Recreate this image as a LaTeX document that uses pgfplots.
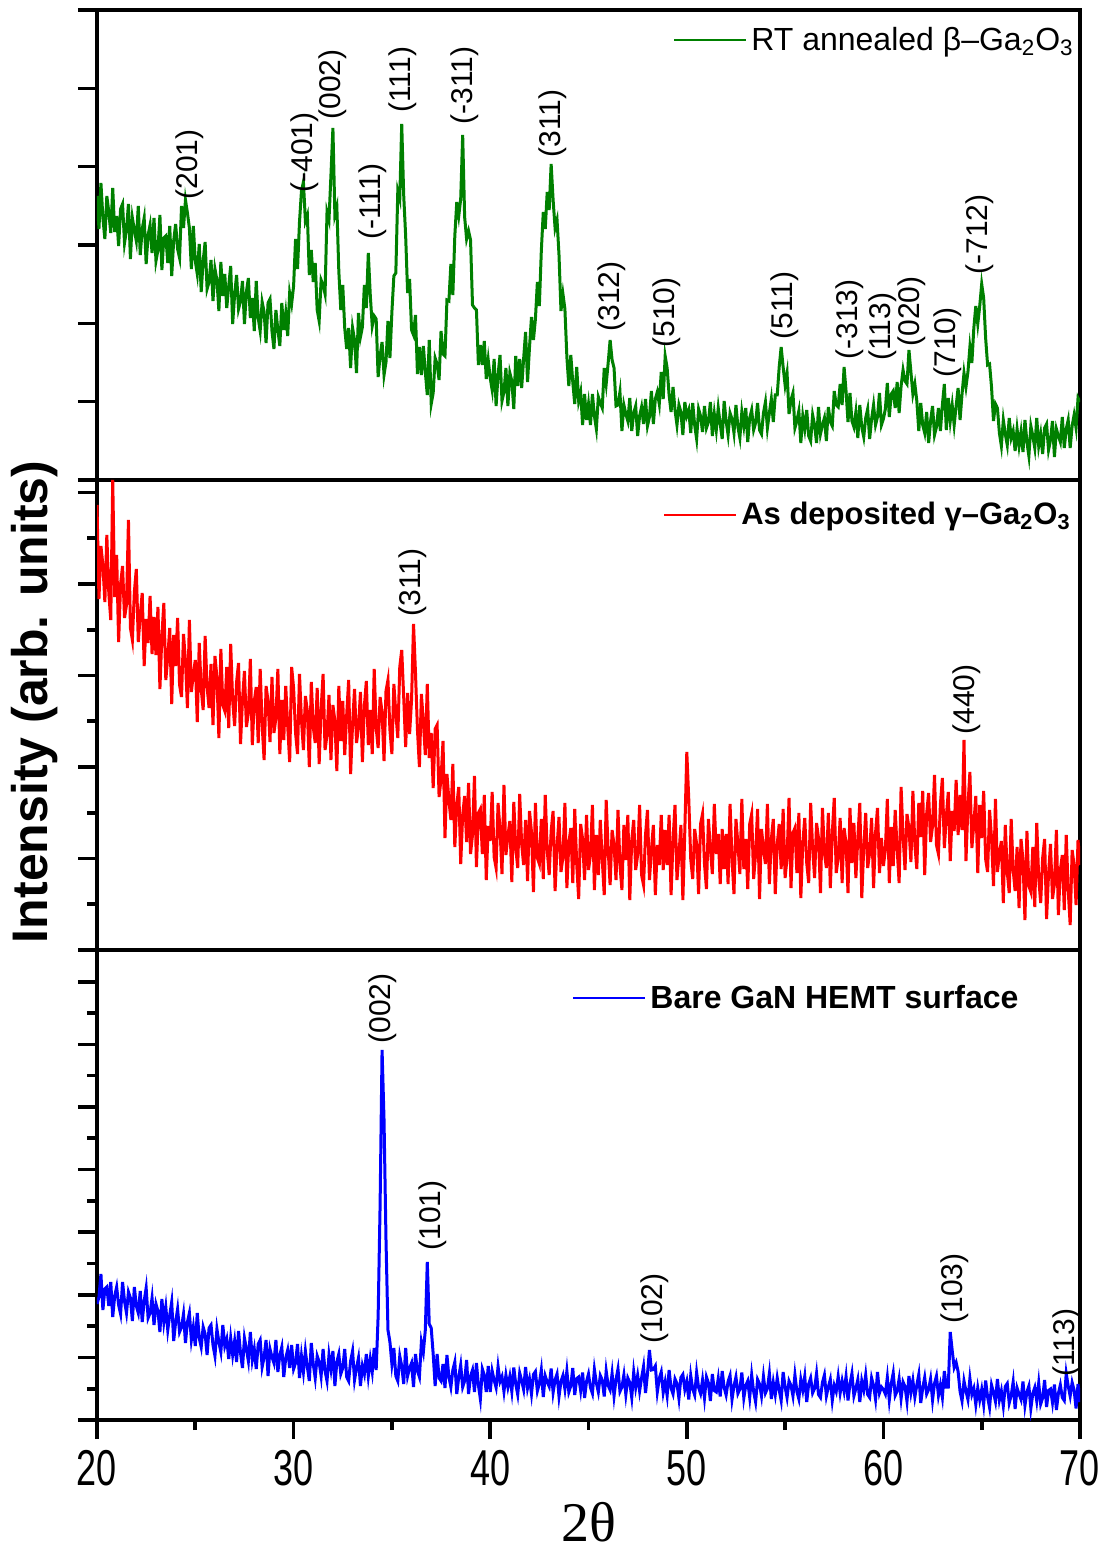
\documentclass[border=0pt]{standalone}
\usepackage{fontspec}
\setmainfont{Liberation Sans}
\newfontfamily\serifx{Liberation Serif}
\usepackage{graphicx}
\usepackage{pgfplots}
\pgfplotsset{compat=1.18}
\definecolor{ogreen}{RGB}{0,128,0}
\tikzset{annot/.style={rotate=90, anchor=west, inner sep=0pt, font=\fontsize{15}{15}\selectfont}}
\pgfplotsset{
  panel/.style={
    scale only axis, width=491.5pt, height=235pt,
    xmin=20, xmax=70, ymin=0, ymax=470,
    axis line style={line width=1.8pt},
    tick align=outside, ytick pos=left,
    yticklabels={}, minor y tick num=1,
    major tick length=9.5pt, minor tick length=5pt,
    tick style={black, line width=1.8pt},
    legend style={draw=none, fill=none, inner sep=0pt, font=\fontsize{16}{16}\selectfont, nodes={inner sep=2pt}},
    legend image code/.code={\draw[##1, line width=1pt] (0pt,0pt) -- (36pt,0pt);},
  },
}
\begin{document}
\begin{tikzpicture}
\path[use as bounding box] (-48.5pt,-65.5pt) rectangle (507pt,710pt);
% ---------------- top panel ----------------
\begin{axis}[panel, at={(0pt,470pt)}, anchor=south west, xtick=\empty,
  ytick={0,78.33,156.67,235,313.33,391.67,470},
  legend style={at={(rel axis cs:0.998,0.936)}, anchor=east}]
\addplot[ogreen, line width=1.5pt] table[header=false, x expr=20+0.1*\coordindex, y index=0] {
284
251
297
262
241
284
268
247
292
248
264
234
271
276
237
250
276
221
262
250
239
274
225
251
262
216
245
255
227
262
219
230
265
210
242
244
217
254
204
239
256
231
222
274
252
280
267
252
211
254
219
206
236
188
219
238
191
198
220
179
211
200
169
218
184
206
172
194
214
156
185
205
171
179
199
156
188
202
162
182
149
199
162
149
178
168
137
177
181
149
131
170
150
134
177
150
167
144
187
176
194
241
211
258
289
298
259
265
205
230
198
217
170
159
200
195
186
268
260
305
352
265
273
209
170
195
152
131
152
112
152
140
107
167
143
153
195
172
227
185
154
164
161
103
124
138
105
118
159
122
168
204
207
289
281
356
285
244
187
201
150
145
165
106
133
105
134
108
85
140
76
87
122
116
100
149
126
124
180
179
216
185
244
278
264
281
345
263
241
249
240
175
172
170
115
135
115
139
101
120
102
90
121
74
105
125
79
88
112
74
107
99
71
124
94
121
92
121
148
98
133
163
140
161
198
174
229
268
251
288
270
316
280
252
260
225
169
186
171
123
94
125
98
76
113
79
88
55
86
60
76
55
86
64
51
83
77
72
112
96
117
140
120
112
74
75
88
49
75
66
59
82
49
67
74
44
64
73
56
81
54
63
89
56
81
88
76
108
81
124
112
85
68
93
70
55
75
68
45
78
64
70
47
77
55
41
71
64
48
74
52
58
78
44
66
50
72
56
41
79
59
45
67
61
47
75
53
42
68
54
72
38
62
70
50
57
77
50
46
67
78
52
67
81
58
85
85
113
133
113
95
107
66
80
87
52
59
69
37
64
51
70
44
39
65
55
37
73
46
55
62
39
73
58
54
89
75
73
96
75
113
89
58
87
59
53
68
42
75
53
43
62
71
41
61
75
55
63
87
55
61
71
97
63
86
89
72
98
67
94
110
99
96
130
108
86
96
79
49
77
55
47
68
37
59
74
45
53
72
49
75
96
50
82
59
75
55
74
92
60
86
107
93
108
133
117
152
174
156
174
196
182
142
115
116
93
59
76
72
47
34
60
46
35
62
42
49
29
51
34
48
28
60
38
24
54
44
32
62
34
46
26
52
56
30
40
59
23
51
44
38
63
32
51
60
32
54
65
52
82
78
};
\addlegendentry{RT annealed β–Ga\textsubscript{2}O\textsubscript{3}}
\node[annot] at (axis cs:24.73,280) {(201)};
\node[annot] at (axis cs:30.58,287) {(-401)};
\node[annot] at (axis cs:32.0,360) {(002)};
\node[annot] at (axis cs:34.04,240) {(-111)};
\node[annot] at (axis cs:35.56,367) {(111)};
\node[annot] at (axis cs:38.72,355) {(-311)};
\node[annot] at (axis cs:43.19,322) {(311)};
\node[annot] at (axis cs:46.2,148) {(312)};
\node[annot] at (axis cs:48.99,132) {(510)};
\node[annot] at (axis cs:55.0,140) {(511)};
\node[annot] at (axis cs:58.3,120) {(-313)};
\node[annot] at (axis cs:59.98,119) {(113)};
\node[annot] at (axis cs:61.45,133) {(020)};
\node[annot] at (axis cs:63.29,102) {(710)};
\node[annot] at (axis cs:64.91,205) {(-712)};
\end{axis}
% ---------------- middle panel ----------------
\begin{axis}[panel, at={(0pt,235pt)}, anchor=south west, xtick=\empty,
  ytick={0,91.5,183,274.5,366,457.5},
  ylabel={Intensity (arb. units)},
  ylabel style={at={(axis description cs:-0.063,0.528)}, anchor=center, font=\bfseries\fontsize{25}{25}\selectfont},
  legend style={at={(rel axis cs:0.995,0.926)}, anchor=east, font=\fontsize{15.5}{15.5}\selectfont}]
\addplot[red, line width=1.5pt] table[header=false, x expr=20+0.1*\coordindex, y index=0] {
445
351
404
385
348
415
357
330
470
353
395
308
366
384
332
345
430
322
310
358
381
308
335
357
284
331
307
354
296
333
295
343
261
314
347
270
293
322
246
315
284
332
265
253
316
289
242
330
258
276
290
228
307
261
240
314
263
242
286
225
294
273
212
301
245
239
283
222
306
250
224
268
287
206
250
279
223
237
291
205
249
263
207
281
225
190
264
249
208
273
217
232
281
196
250
210
264
224
188
283
262
217
196
276
230
200
254
239
183
268
223
207
262
186
241
276
200
215
255
190
245
229
179
264
209
249
195
235
270
176
226
261
207
222
258
188
244
269
205
240
196
281
222
202
253
238
189
259
270
220
196
266
237
212
283
300
253
203
257
216
250
326
277
220
183
256
228
195
266
192
217
162
221
225
153
171
209
112
176
150
130
186
103
145
163
86
135
154
108
167
96
115
174
83
137
141
96
155
70
124
109
158
93
82
147
121
76
165
95
114
129
68
148
102
82
156
106
85
130
69
139
118
58
147
92
86
131
71
155
100
75
119
139
59
103
133
78
93
147
62
107
122
67
141
86
51
126
111
70
135
80
95
145
60
115
75
130
90
55
150
100
65
120
105
70
140
85
60
125
90
135
50
110
130
80
95
145
75
65
115
140
70
100
125
55
105
85
135
80
120
85
135
55
110
145
70
95
125
50
120
198
151
91
71
121
106
56
126
136
86
61
131
101
76
146
96
116
66
121
81
116
66
146
91
56
131
106
76
151
81
111
61
126
136
71
96
141
51
121
101
86
146
66
111
131
56
106
126
81
141
72
92
152
62
117
122
77
137
52
107
132
87
67
147
102
72
127
112
57
142
97
82
137
62
117
152
77
92
132
67
122
107
57
142
87
127
72
112
147
52
102
137
82
97
132
62
117
142
77
112
84
100
151
67
123
84
140
101
67
163
114
80
136
122
88
159
105
81
147
113
159
75
136
157
108
124
175
105
96
146
172
102
133
158
89
139
119
170
115
155
120
210
89
144
178
102
126
154
77
145
112
159
91
78
140
112
64
151
78
96
109
47
125
78
57
131
80
59
103
42
111
90
30
119
64
58
103
43
127
72
47
92
111
31
76
106
51
66
120
35
80
95
40
115
60
25
100
85
45
110
85
};
\addlegendentry{\bfseries As deposited γ–Ga\textsubscript{2}O\textsubscript{3}}
\node[annot] at (axis cs:36.07,333) {(311)};
\node[annot] at (axis cs:64.25,215) {(440)};
\end{axis}
% ---------------- bottom panel ----------------
\begin{axis}[panel, at={(0pt,0pt)}, anchor=south west,
  ytick={0,62.6,125.2,187.8,250.4,313,375.6,438.2},
  xtick={20,30,40,50,60,70}, minor x tick num=1, xtick pos=bottom,
  xticklabels={\scalebox{1}[1.4]{20},\scalebox{1}[1.4]{30},\scalebox{1}[1.4]{40},\scalebox{1}[1.4]{50},\scalebox{1}[1.4]{60},\scalebox{1}[1.4]{70}},
  xticklabel style={anchor=center, inner sep=0pt, yshift=-14.5pt, font=\fontsize{18}{18}\selectfont},
  xlabel={2θ},
  xlabel style={at={(axis description cs:0.5,-0.218)}, anchor=center, inner sep=0pt, font=\serifx\fontsize{28}{28}\selectfont},
  legend style={at={(rel axis cs:0.942,0.898)}, anchor=east}]
\addplot[blue, line width=1.5pt] table[header=false, x expr=20+0.1*\coordindex, y index=0] {
116
123
146
110
131
133
114
138
103
124
133
115
106
138
119
107
128
122
99
133
114
107
129
98
119
132
102
107
122
95
116
109
88
121
98
113
90
105
118
79
98
111
88
93
106
77
98
107
80
93
74
107
82
73
93
86
65
92
95
75
64
91
78
68
95
74
81
61
82
65
79
58
89
67
52
82
71
59
88
60
71
51
76
80
53
63
80
44
71
63
57
80
48
65
73
43
62
70
52
75
51
57
76
42
64
48
69
53
39
77
56
42
64
58
44
71
49
39
65
51
69
34
58
66
46
52
71
43
39
59
69
40
52
62
34
54
46
66
44
61
48
72
50
104
215
370
300
180
90
78
56
72
44
39
64
54
36
72
44
52
57
33
66
49
43
78
68
90
158
96
92
66
34
66
42
39
56
32
65
43
33
50
58
26
43
55
33
39
60
26
44
50
28
57
35
21
51
45
28
54
28
49
40
32.5
53.5
38.5
43.5
28.5
45
33
43.5
28.5
52.5
36
25.5
47
39.5
30.5
53
32
41
26
45.5
48.5
29
36.5
50
23
44
38
33.5
51.5
27.5
40
46
23.5
38.5
44.5
31
49
28
34
52
25
41.5
43
29.5
47.5
22
38.5
46
32.5
26.5
50.5
37
28
44.5
40
23.5
49
34.5
30
46.5
24
40.5
51
28.5
33
45
25.5
42
37.5
22.5
48
32.5
44.5
29
42
53.5
27
46
70
50
50.5
54
28
41.5
48
27.5
38
24.5
50
32
26
41
36.5
21.5
42.5
45.5
30.5
38.5
20.5
44.5
31
25
47.5
32.5
26.5
40
22
43
37
19
46
29.5
28
41.5
23.5
49
32.5
25
38.5
44.5
20.5
34
43
26.5
31
47.5
22
34.5
39
22.5
45
28.5
18
40.5
36
24
43.5
27
31.5
46.5
21
37.5
25.5
42
30
19.5
48
33
22.5
39
34.5
24
45
28.5
21
40.5
30
43.5
18
36
42
27
31.5
46.5
25.5
22.5
37.5
45
24
33
40.5
19.5
34.5
28.5
43.5
27
39
28.5
43.5
19.5
36
46.5
24
31.5
40.5
18
39
30
45
25.5
22.5
42
34.5
21
48
27
33
30.5
26
42.5
20
36.5
47
24.5
29
41
21.5
38
33.5
18.5
44
27.5
39.5
23
35
45.5
17
32
42.5
26
30.5
41
20
36.5
44
24.5
35
22.5
49
33
33
88
69.5
52.5
57.5
48.5
28.5
19
39
29
20.5
41.5
25.5
31.5
15.5
32
20
30.5
15.5
39.5
23
12.5
35
27.5
18.5
41
20
29
14
33.5
36.5
17
24.5
38
11
32
26
20.5
38.5
14.5
28
34
11.5
26.5
32.5
19
37
16
22
40
13
29.5
31
17.5
35.5
10
26.5
35
22.5
19.5
46.5
34
24
37.5
30
11.5
36
18
};
\addlegendentry{\bfseries Bare GaN HEMT surface}
\node[annot] at (axis cs:34.55,376) {(002)};
\node[annot] at (axis cs:37.09,169) {(101)};
\node[annot] at (axis cs:48.38,76) {(102)};
\node[annot] at (axis cs:63.64,96) {(103)};
\node[annot] at (axis cs:69.34,43) {(113)};
\end{axis}
\end{tikzpicture}
\end{document}
